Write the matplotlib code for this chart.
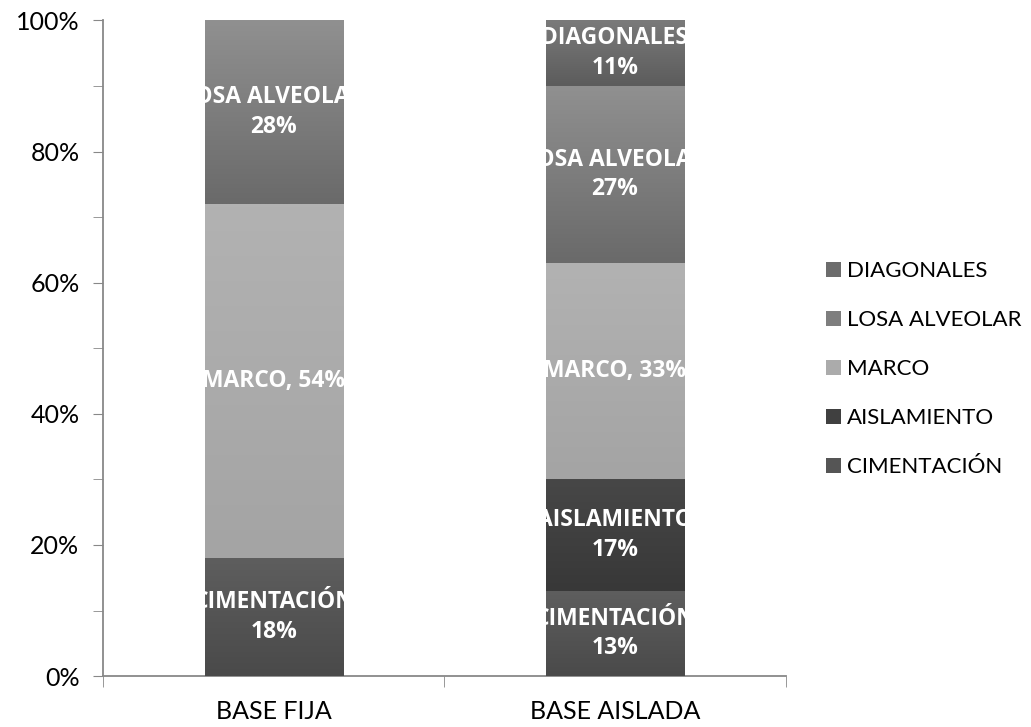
import numpy as np
import matplotlib.pyplot as plt
from matplotlib.colors import LinearSegmentedColormap
from matplotlib.ticker import MultipleLocator, FixedLocator

plt.rcParams['font.family'] = ['Lato', 'DejaVu Sans']

categories = ['BASE FIJA', 'BASE AISLADA']
series = ['CIMENTACIÓN', 'AISLAMIENTO', 'MARCO', 'LOSA ALVEOLAR', 'DIAGONALES']
# segment heights (% of bar)
values = {
    'CIMENTACIÓN':   [18, 13],
    'AISLAMIENTO':   [0, 17],
    'MARCO':         [54, 33],
    'LOSA ALVEOLAR': [28, 27],
    'DIAGONALES':    [0, 10],
}
# percentages shown in the data labels
labels = {
    'CIMENTACIÓN':   ['18%', '13%'],
    'AISLAMIENTO':   ['', '17%'],
    'MARCO':         ['54%', '33%'],
    'LOSA ALVEOLAR': ['28%', '27%'],
    'DIAGONALES':    ['', '11%'],
}
# gradient colours (top, bottom) per series
colors = {
    'CIMENTACIÓN':   ('#5e5e5e', '#4a4a4a'),
    'AISLAMIENTO':   ('#474747', '#383838'),
    'MARCO':         ('#b2b2b2', '#a4a4a4'),
    'LOSA ALVEOLAR': ('#909090', '#6a6a6a'),
    'DIAGONALES':    ('#7a7a7a', '#5c5c5c'),
}
legend_colors = {
    'CIMENTACIÓN': '#555555',
    'AISLAMIENTO': '#404040',
    'MARCO': '#ababab',
    'LOSA ALVEOLAR': '#7e7e7e',
    'DIAGONALES': '#6c6c6c',
}

fig = plt.figure(figsize=(10.31, 7.27), dpi=100)
ax = fig.add_axes([0.1, 0.07, 0.662, 0.902])

x = np.arange(len(categories))
totals = np.sum([values[s] for s in series], axis=0)
bottom = np.zeros(len(categories))
grad = np.linspace(1, 0, 100).reshape(-1, 1)
handles = []
for s in series:
    v = np.array(values[s], dtype=float) / totals * 100
    bars = ax.bar(x, v, 0.405, bottom=bottom, color=legend_colors[s],
                  edgecolor='none', label=s, zorder=2)
    handles.append(bars)
    cmap = LinearSegmentedColormap.from_list(s, [colors[s][1], colors[s][0]])
    for i, p in enumerate(bars.patches):
        if v[i] <= 0:
            continue
        x0, y0 = p.get_x(), p.get_y()
        im = ax.imshow(grad, cmap=cmap, aspect='auto', zorder=3,
                       extent=[x0, x0 + p.get_width(), y0, y0 + p.get_height()],
                       vmin=0, vmax=1)
        im.set_clip_path(p)
        if s == 'MARCO':
            lab = f'{s}, {labels[s][i]}'
        else:
            lab = f'{s}\n{labels[s][i]}'
        t = ax.text(x[i], y0 + p.get_height() / 2, lab, ha='center', va='center',
                    color='white', fontsize=16.5, fontweight='bold',
                    family=['Open Sans', 'DejaVu Sans'], linespacing=1.3, zorder=5)
        t.set_clip_path(p)
    bottom += v

ax.set_xlim(-0.5, 1.5)
ax.set_ylim(0, 100)
ax.yaxis.set_major_locator(MultipleLocator(20))
ax.yaxis.set_minor_locator(MultipleLocator(10))
ax.set_yticklabels([f'{int(t)}%' for t in ax.get_yticks()])
ax.set_xticks(x)
ax.set_xticklabels(categories)
ax.xaxis.set_minor_locator(FixedLocator([-0.5, 0.5, 1.5]))
ax.tick_params(axis='x', which='major', length=0, labelsize=18, pad=17)
ax.tick_params(axis='x', which='minor', length=8, color='#888888', direction='out')
ax.tick_params(axis='y', which='both', length=7, color='#888888', direction='out',
               labelsize=18, pad=10)
for side in ['top', 'right']:
    ax.spines[side].set_visible(False)
for side in ['left', 'bottom']:
    ax.spines[side].set_color('#888888')
    ax.spines[side].set_linewidth(1.3)

ax.legend(handles[::-1], series[::-1], loc='center left', bbox_to_anchor=(1.03, 0.468),
          frameon=False, fontsize=16, handlelength=0.65, handleheight=0.65,
          handletextpad=0.3, labelspacing=1.3)

fig.savefig('out.png', dpi=100)
